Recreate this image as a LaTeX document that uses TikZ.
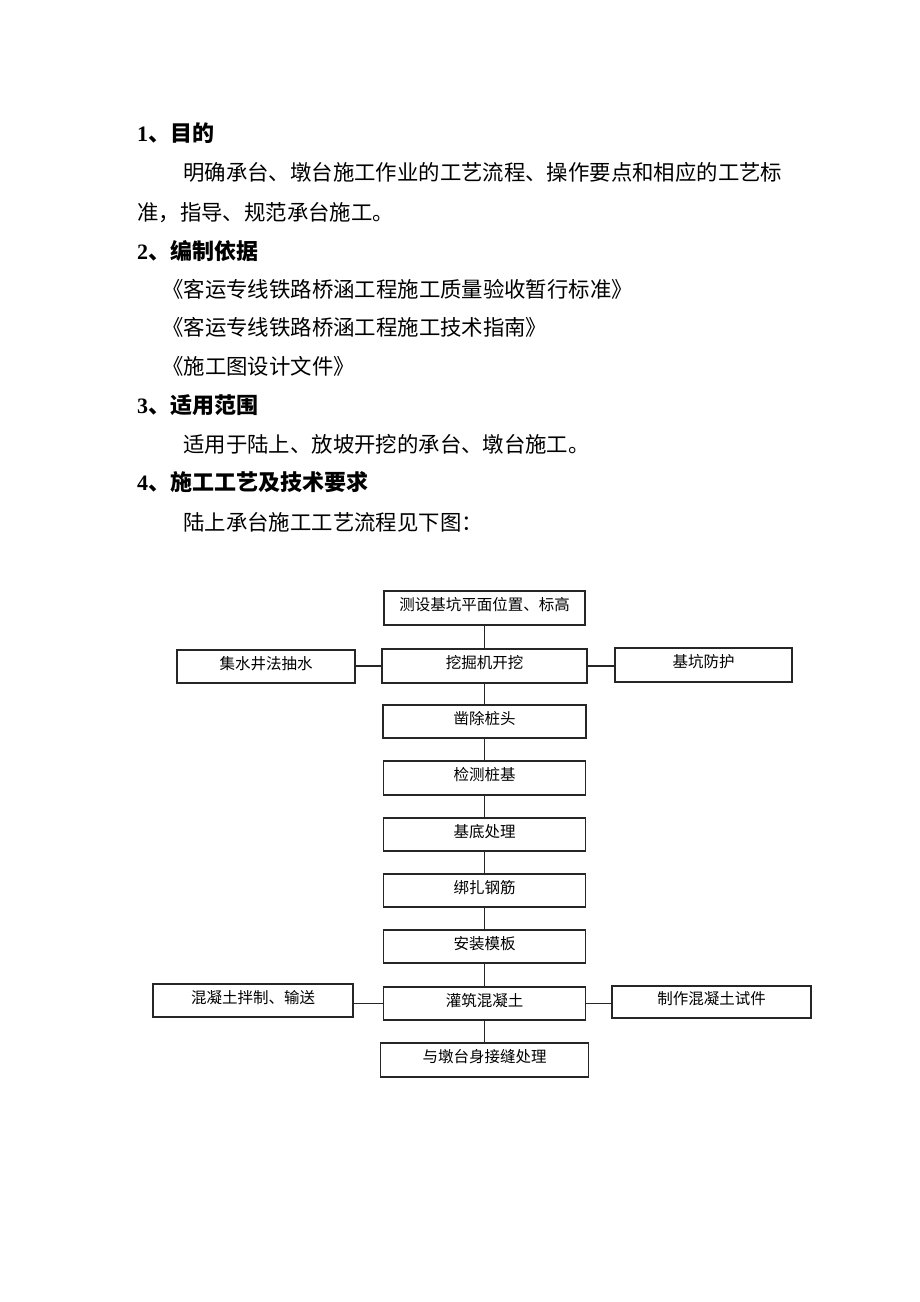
\documentclass[tikz,border=0pt]{standalone}
\usepackage{fontspec}
\newfontfamily\cjk{Noto Sans CJK SC}
\newfontfamily\serifnum{Liberation Serif}
\begin{document}
\begin{tikzpicture}[x=1pt,y=-1pt,
  box/.style={draw=black!85, line width=1.2pt, inner sep=0pt, font=\cjk\fontsize{15.5}{16}\selectfont, text height=10pt, text depth=5pt},
  conn/.style={draw=black!85, line width=1.2pt},
  body/.style={anchor=base west, inner sep=0pt, font=\cjk\fontsize{21.4}{24}\selectfont},
  head/.style={anchor=base west, inner sep=0pt, font=\cjk\bfseries\fontsize{22}{24}\selectfont}]
\fill[white] (0,0) rectangle (920,1302);
\useasboundingbox (0,0) rectangle (920,1302);

% text
\node[head] (h1) at (137,141) {{\serifnum\bfseries 1}、目的};
\node[body] (t1) at (183,180) {明确承台、墩台施工作业的工艺流程、操作要点和相应的工艺标};
\node[body] (t2) at (137,220) {准，指导、规范承台施工。};
\node[head] (h2) at (137,259) {{\serifnum\bfseries 2}、编制依据};
\node[body] (t3) at (162,297) {《客运专线铁路桥涵工程施工质量验收暂行标准》};
\node[body] (t4) at (162,335) {《客运专线铁路桥涵工程施工技术指南》};
\node[body] (t5) at (162,374) {《施工图设计文件》};
\node[head] (h3) at (137,413) {{\serifnum\bfseries 3}、适用范围};
\node[body] (t6) at (183,452) {适用于陆上、放坡开挖的承台、墩台施工。};
\node[head] (h4) at (137,490) {{\serifnum\bfseries 4}、施工工艺及技术要求};
\node[body] (t7) at (183,530) {陆上承台施工工艺流程见下图：};

% flowchart
\node[box, minimum width=201pt, minimum height=34pt] (top) at (484.5,608) {测设基坑平面位置、标高};
\node[box, minimum width=205pt, minimum height=34pt] (dig) at (484.5,666) {挖掘机开挖};
\node[box, minimum width=178pt, minimum height=33pt] (water) at (266,666.5) {集水井法抽水};
\node[box, minimum width=177pt, minimum height=34pt] (prot) at (703.5,665) {基坑防护};
\node[box, minimum width=203pt, minimum height=33pt] (zc) at (484.5,721.5) {凿除桩头};
\node[box, minimum width=202pt, minimum height=34pt] (jc) at (484.5,778) {检测桩基};
\node[box, minimum width=202pt, minimum height=33pt] (jd) at (484.5,834.5) {基底处理};
\node[box, minimum width=202pt, minimum height=33pt] (bz) at (484.5,890.5) {绑扎钢筋};
\node[box, minimum width=202pt, minimum height=33pt] (az) at (484.5,946.5) {安装模板};
\node[box, minimum width=202pt, minimum height=33pt] (gz) at (484.5,1003.5) {灌筑混凝土};
\node[box, minimum width=200pt, minimum height=33pt] (mix) at (253,1000.5) {混凝土拌制、输送};
\node[box, minimum width=199pt, minimum height=32pt] (test) at (711.5,1002) {制作混凝土试件};
\node[box, minimum width=208pt, minimum height=34pt] (last) at (484.5,1060) {与墩台身接缝处理};

\draw[conn] (top.south) -- (dig.north);
\draw[conn] (dig.south) -- (zc.north);
\draw[conn] (zc.south) -- (jc.north);
\draw[conn] (jc.south) -- (jd.north);
\draw[conn] (jd.south) -- (bz.north);
\draw[conn] (bz.south) -- (az.north);
\draw[conn] (az.south) -- (gz.north);
\draw[conn] (gz.south) -- (last.north);
\draw[conn] (dig.west) -- (dig.west -| water.east);
\draw[conn] (dig.east) -- (dig.east -| prot.west);
\draw[conn] (gz.west) -- (gz.west -| mix.east);
\draw[conn] (gz.east) -- (gz.east -| test.west);
\end{tikzpicture}
\end{document}
